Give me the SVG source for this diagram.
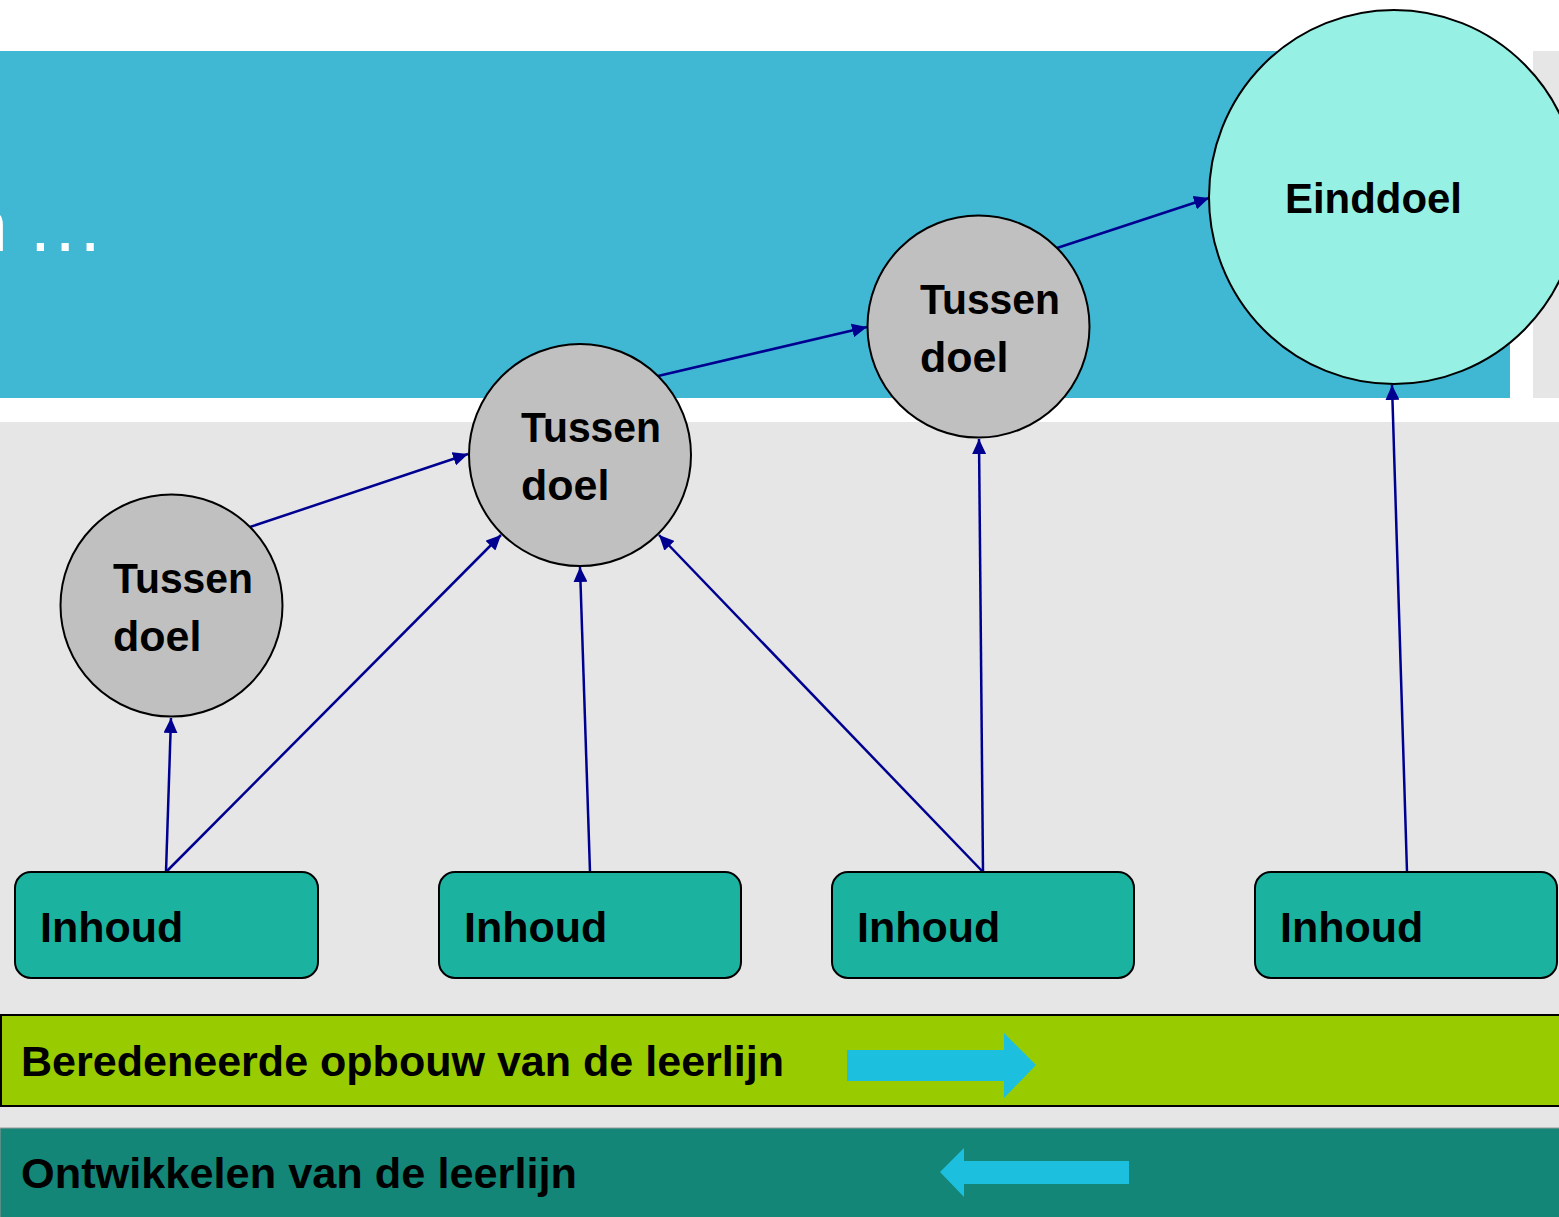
<svg xmlns="http://www.w3.org/2000/svg" width="1559" height="1217" viewBox="0 0 1559 1217">
<style>
.lbl{font-family:"Liberation Sans",Arial,sans-serif;font-weight:bold;font-size:43px;fill:#000}
.goal{fill:#C0C0C0;stroke:#000;stroke-width:2}
.box{fill:#1BB3A0;stroke:#000;stroke-width:2}
.conn{stroke:#000090;stroke-width:2.5;fill:none;marker-end:url(#ah)}
.big{fill:#1CBFDE}
</style>
<defs>
<marker id="ah" markerUnits="userSpaceOnUse" markerWidth="16" markerHeight="14" refX="15" refY="7" orient="auto">
<path d="M0,0 L15,7 L0,14 z" fill="#000090"/>
</marker>
</defs>
<rect x="0" y="0" width="1559" height="1217" fill="#fff"/>
<g id="background">
<rect x="0" y="51" width="1510" height="347" fill="#41B8D3"/>
<rect x="1533" y="51" width="26" height="347" fill="#E6E6E6"/>
<rect x="0" y="422" width="1559" height="795" fill="#E6E6E6"/>
<text x="-34" y="251" font-family="Liberation Sans,Arial,sans-serif" font-size="75" fill="#fff">n<tspan x="30" letter-spacing="4">...</tspan></text>
</g>
<g id="connectors">
<line class="conn" x1="250" y1="527" x2="468" y2="454"/>
<line class="conn" x1="658" y1="376" x2="867" y2="327"/>
<line class="conn" x1="1057" y1="248" x2="1209" y2="198"/>
<line class="conn" x1="166" y1="872" x2="171" y2="718"/>
<line class="conn" x1="166" y1="872" x2="501" y2="535"/>
<line class="conn" x1="590" y1="872" x2="580" y2="567"/>
<line class="conn" x1="983" y1="872" x2="659" y2="535"/>
<line class="conn" x1="983" y1="872" x2="979" y2="439"/>
<line class="conn" x1="1407" y1="872" x2="1392" y2="385"/>
</g>
<g id="goal1">
<circle class="goal" cx="171.5" cy="605.5" r="111"/>
<text class="lbl" x="113" y="593" textLength="140" lengthAdjust="spacingAndGlyphs">Tussen</text>
<text class="lbl" x="113" y="651">doel</text>
</g>
<g id="goal2">
<circle class="goal" cx="580" cy="455" r="111"/>
<text class="lbl" x="521" y="442" textLength="140" lengthAdjust="spacingAndGlyphs">Tussen</text>
<text class="lbl" x="521" y="500">doel</text>
</g>
<g id="goal3">
<circle class="goal" cx="978.5" cy="326.5" r="111"/>
<text class="lbl" x="920" y="314" textLength="140" lengthAdjust="spacingAndGlyphs">Tussen</text>
<text class="lbl" x="920" y="372">doel</text>
</g>
<g id="einddoel">
<ellipse cx="1394" cy="197" rx="185" ry="187" fill="#96F0E4" stroke="#000" stroke-width="2"/>
<text class="lbl" x="1285" y="213" textLength="177" lengthAdjust="spacingAndGlyphs">Einddoel</text>
</g>
<g id="inhoud1">
<rect class="box" x="15" y="872" width="303" height="106" rx="16"/>
<text class="lbl" x="40" y="942">Inhoud</text>
</g>
<g id="inhoud2">
<rect class="box" x="439" y="872" width="302" height="106" rx="16"/>
<text class="lbl" x="464" y="942">Inhoud</text>
</g>
<g id="inhoud3">
<rect class="box" x="832" y="872" width="302" height="106" rx="16"/>
<text class="lbl" x="857" y="942">Inhoud</text>
</g>
<g id="inhoud4">
<rect class="box" x="1255" y="872" width="302" height="106" rx="16"/>
<text class="lbl" x="1280" y="942">Inhoud</text>
</g>
<g id="bar-opbouw">
<rect x="1" y="1015" width="1560" height="91" fill="#99CC00" stroke="#000" stroke-width="2"/>
<text class="lbl" x="21" y="1076" textLength="763" lengthAdjust="spacingAndGlyphs">Beredeneerde opbouw van de leerlijn</text>
<polygon class="big" points="847,1050 1004,1050 1004,1033 1036,1065 1004,1098 1004,1081 847,1081"/>
</g>
<g id="bar-ontwikkelen">
<rect x="0" y="1128" width="1560" height="90" fill="#138677" stroke="#9A9A9A" stroke-width="1"/>
<text class="lbl" x="21" y="1188" textLength="556" lengthAdjust="spacingAndGlyphs">Ontwikkelen van de leerlijn</text>
<polygon class="big" points="1129,1161 964,1161 964,1148 940,1172 964,1197 964,1184 1129,1184"/>
</g>
</svg>
